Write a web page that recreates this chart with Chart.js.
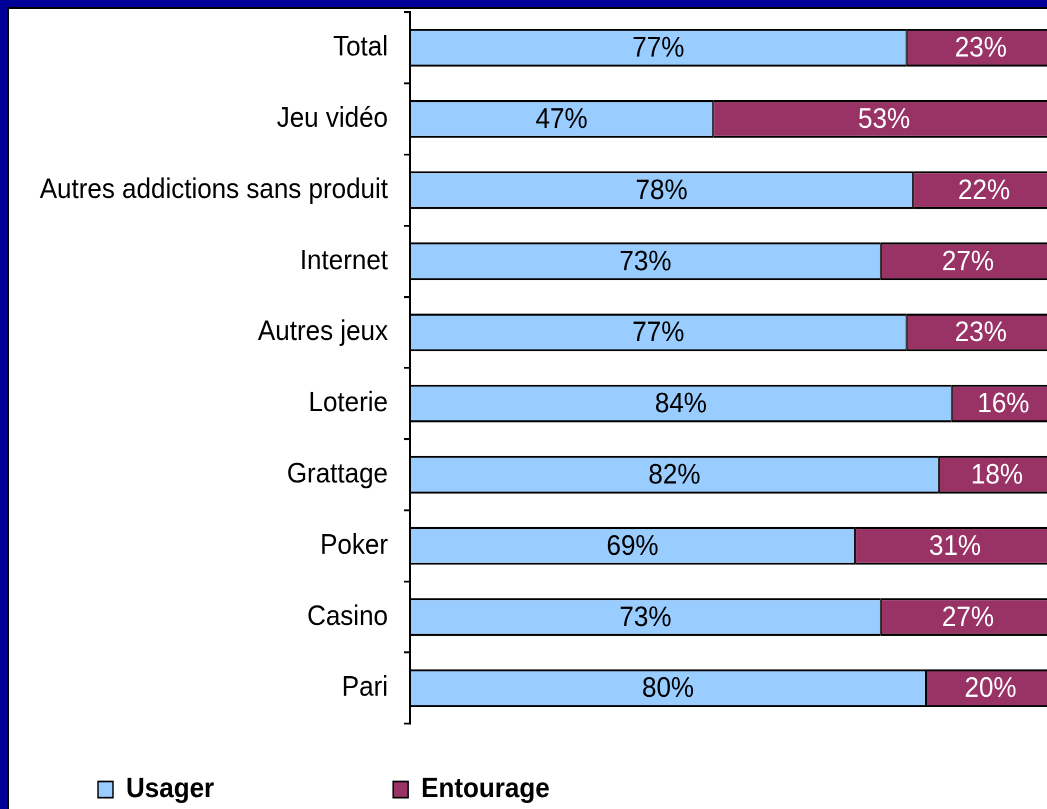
<!DOCTYPE html>
<html lang="fr">
<head>
  <meta charset="UTF-8">
  <title>Usager / Entourage</title>
  <style>
    html, body {
      margin: 0;
      padding: 0;
      background: #000099;
      overflow: hidden;
      width: 1047px;
      height: 809px;
    }

    .frame {
      position: absolute;
      left: 7px;
      top: 7px;
      width: 1100px;
      height: 900px;
      background: #fff;
      border-left: 2px solid #000;
      border-top: 2px solid #000;
    }

    /* l'original est legerement etire en hauteur */
    canvas {
      position: absolute;
      left: 0;
      top: 0;
      width: 1046px !important;
      height: 800px !important;
    }
  </style>
</head>
<body>

<div class="frame">
  <canvas id="chart" width="1046" height="741"></canvas>
</div>

<script src="https://cdn.jsdelivr.net/npm/chart.js"></script>
<script>
const categories = ["Total", "Jeu vidéo", "Autres addictions sans produit", "Internet", "Autres jeux",
                    "Loterie", "Grattage", "Poker", "Casino", "Pari"];
const usager    = [77, 47, 78, 73, 77, 84, 82, 69, 73, 80];
const entourage = [23, 53, 22, 27, 23, 16, 18, 31, 27, 20];
const seriesNames = ["Usager", "Entourage"];

const FONT = '"Liberation Sans", Arial, sans-serif';
const labelColors = ["#000", "#fff"];

// valeurs en % au milieu de chaque segment
const barLabels = {
  id: 'barLabels',
  afterDatasetsDraw(chart) {
    const ctx = chart.ctx;
    ctx.save();
    ctx.font = '26px ' + FONT;
    ctx.textAlign = 'center';
    ctx.textBaseline = 'middle';
    chart.data.datasets.forEach((ds, i) => {
      ctx.fillStyle = labelColors[i];
      chart.getDatasetMeta(i).data.forEach((bar, j) => {
        ctx.fillText(ds.data[j] + '%', (bar.x + bar.base) / 2, bar.y + 1);
      });
    });
    ctx.restore();
  }
};

// legende placee en bas a gauche comme dans l'original
const legendSpot = {
  id: 'legendSpot',
  afterLayout(chart) {
    const lg = chart.legend;
    const pad = lg.options.labels.padding;
    lg.left = 89 - pad;
    lg.top = 710 - pad;
  }
};

new Chart(document.getElementById("chart"), {
  type: "bar",
  data: {
    labels: categories,
    datasets: [
      {
        label: seriesNames[0],
        data: usager,
        backgroundColor: "#99ccff"
      },
      {
        label: seriesNames[1],
        data: entourage,
        backgroundColor: "#993366"
      }
    ]
  },
  options: {
    indexAxis: "y",
    responsive: false,
    animation: false,
    devicePixelRatio: 2,
    events: [],
    layout: { padding: { top: 3, left: 0, right: 0, bottom: 0 } },
    datasets: {
      bar: {
        barPercentage: 0.53,
        categoryPercentage: 1,
        borderColor: "#000",
        borderWidth: { top: 1.9, bottom: 1.9, left: 1, right: 1 },
        borderSkipped: false
      }
    },
    scales: {
      x: {
        stacked: true,
        min: 0,
        max: 100,
        display: false
      },
      y: {
        stacked: true,
        afterFit(scale) {
          scale.width = 401;
          scale.paddingTop = 0;
          scale.paddingBottom = 0;
        },
        ticks: {
          color: "#000",
          padding: 16,
          font: { family: FONT, size: 26 }
        },
        grid: {
          display: true,
          drawOnChartArea: false,
          drawTicks: true,
          tickLength: 6,
          color: "#000",
          lineWidth: 1.7,
          offset: true
        },
        border: { display: true, color: "#000", width: 2 }
      }
    },
    plugins: {
      tooltip: { enabled: false },
      legend: {
        position: "bottom",
        align: "start",
        maxHeight: 79,
        labels: {
          color: "#000",
          boxWidth: 15,
          boxHeight: 15,
          padding: 179,
          font: { family: FONT, size: 26, weight: "bold" }
        }
      }
    }
  },
  plugins: [barLabels, legendSpot]
});
</script>
</body>
</html>
